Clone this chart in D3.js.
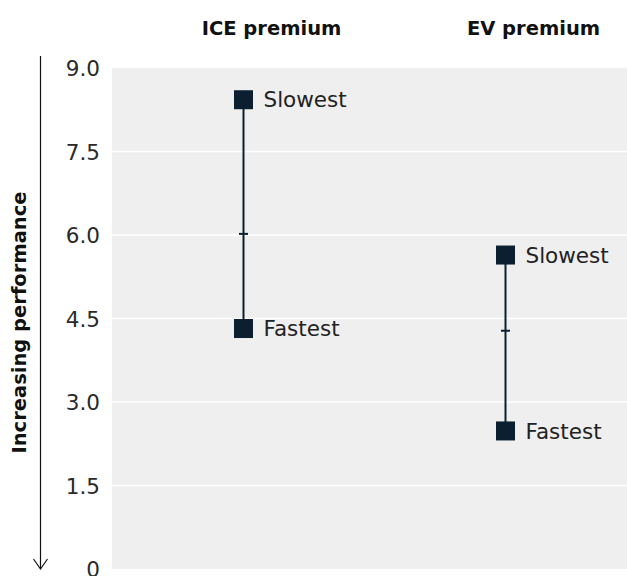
<!DOCTYPE html>
<html>
<head>
<meta charset="utf-8">
<script src="https://cdn.jsdelivr.net/npm/d3@7"></script>
<style>
  html, body { margin: 0; padding: 0; background: #ffffff; }
  svg { display: block; font-family: "DejaVu Sans", "Liberation Sans", sans-serif; }
</style>
</head>
<body>
<svg id="chart" width="627" height="576"></svg>
<script>
// ---- Data ----
const categories = ["ICE premium", "EV premium"];
const slowest = [8.43, 5.64];
const fastest = [4.32, 2.48];
const middle = [6.02, 4.28];
const yTicks = [0, 1.5, 3.0, 4.5, 6.0, 7.5, 9.0];
const yTickLabels = ["0", "1.5", "3.0", "4.5", "6.0", "7.5", "9.0"];
const yTitle = "Increasing performance";
const slowLabel = "Slowest";
const fastLabel = "Fastest";

// ---- Layout ----
const svg = d3.select("#chart");
const plot = { left: 112, right: 627, top: 68, bottom: 569 };

const y = d3.scaleLinear().domain([0, 9]).range([plot.bottom, plot.top]);
const x = d3.scalePoint().domain(categories).range([243.5, 505.5]);

// background
svg.append("rect")
  .attr("x", plot.left).attr("y", plot.top)
  .attr("width", plot.right - plot.left).attr("height", plot.bottom - plot.top)
  .attr("fill", "#efefef");

// gridlines
svg.append("g").selectAll("line")
  .data(yTicks.filter(d => d > 0 && d < 9))
  .join("line")
  .attr("x1", plot.left).attr("x2", plot.right)
  .attr("y1", d => y(d)).attr("y2", d => y(d))
  .attr("stroke", "#ffffff").attr("stroke-width", 1.5);

// y axis labels
const yAxis = d3.axisLeft(y).tickValues(yTicks)
  .tickFormat((d, i) => yTickLabels[i]).tickSize(0).tickPadding(0);
const gy = svg.append("g").attr("transform", `translate(${plot.left - 12},0)`).call(yAxis);
gy.select(".domain").remove();
gy.selectAll("text")
  .attr("font-size", 21.5).attr("fill", "#2a2a2a")
  .attr("font-family", "'DejaVu Sans', 'Liberation Sans', sans-serif")
  .attr("dy", "0.36em");

// axis title and arrow
svg.append("text")
  .attr("transform", `translate(26,${(plot.top + plot.bottom) / 2 + 4}) rotate(-90)`)
  .attr("text-anchor", "middle")
  .attr("font-size", 19.5).attr("font-weight", 700).attr("fill", "#111111")
  .text(yTitle);

const arrowX = 40.5;
svg.append("line")
  .attr("x1", arrowX).attr("x2", arrowX)
  .attr("y1", 56).attr("y2", 569)
  .attr("stroke", "#111111").attr("stroke-width", 1.2);
svg.append("path")
  .attr("d", `M${arrowX - 7},${559} L${arrowX},${569} L${arrowX + 7},${559}`)
  .attr("fill", "none").attr("stroke", "#111111").attr("stroke-width", 1.2);

// column headers
svg.append("g").selectAll("text")
  .data(categories)
  .join("text")
  .attr("x", d => x(d) + 28)
  .attr("y", 35)
  .attr("text-anchor", "middle")
  .attr("font-size", 19.5).attr("font-weight", 700).attr("fill", "#111111")
  .text(d => d);

const markColor = "#0b1f30";
const size = 19;

const groups = svg.append("g").selectAll("g")
  .data(categories.map((c, i) => ({ c, s: slowest[i], f: fastest[i], m: middle[i] })))
  .join("g");

groups.append("line")
  .attr("x1", d => x(d.c)).attr("x2", d => x(d.c))
  .attr("y1", d => y(d.s)).attr("y2", d => y(d.f))
  .attr("stroke", markColor).attr("stroke-width", 2);

groups.append("line")
  .attr("x1", d => x(d.c) - 4.5).attr("x2", d => x(d.c) + 4.5)
  .attr("y1", d => y(d.m)).attr("y2", d => y(d.m))
  .attr("stroke", markColor).attr("stroke-width", 2);

groups.append("rect")
  .attr("x", d => x(d.c) - size / 2).attr("y", d => y(d.s) - size / 2)
  .attr("width", size).attr("height", size).attr("fill", markColor);
groups.append("rect")
  .attr("x", d => x(d.c) - size / 2).attr("y", d => y(d.f) - size / 2)
  .attr("width", size).attr("height", size).attr("fill", markColor);

groups.append("text")
  .attr("x", d => x(d.c) + 20).attr("y", d => y(d.s))
  .attr("dy", "0.36em")
  .attr("font-size", 21.5).attr("fill", "#222222")
  .text(slowLabel);
groups.append("text")
  .attr("x", d => x(d.c) + 20).attr("y", d => y(d.f))
  .attr("dy", "0.36em")
  .attr("font-size", 21.5).attr("fill", "#222222")
  .text(fastLabel);
</script>
</body>
</html>
